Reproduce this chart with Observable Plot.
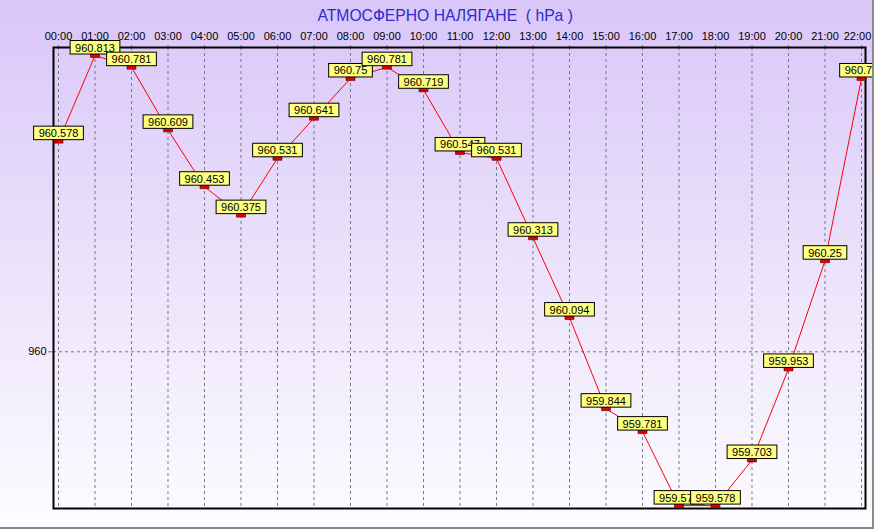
<!DOCTYPE html>
<html>
<head>
<meta charset="utf-8">
<script src="https://cdn.jsdelivr.net/npm/d3@7"></script>
<script src="https://cdn.jsdelivr.net/npm/@observablehq/plot@0.6"></script>
<style>
  html, body { margin: 0; padding: 0; background: #ffffff; }
  #wrap { width: 874px; height: 529px; box-sizing: border-box; border-right: 2px solid #8a8a8a; border-bottom: 2px solid #8a8a8a; overflow: hidden; }
</style>
</head>
<body>
<div id="wrap"></div>
<script>
const title = "АТМОСФЕРНО НАЛЯГАНЕ  ( hPa )";
const times = ["00:00","01:00","02:00","03:00","04:00","05:00","06:00","07:00","08:00","09:00","10:00","11:00",
               "12:00","13:00","14:00","15:00","16:00","17:00","18:00","19:00","20:00","21:00","22:00"];
const pressure = [960.578, 960.813, 960.781, 960.609, 960.453, 960.375, 960.531, 960.641, 960.75, 960.781, 960.719, 960.547,
                  960.531, 960.313, 960.094, 959.844, 959.781, 959.578, 959.578, 959.703, 959.953, 960.25, 960.75];
const yTicks = [960];

const data = times.map((t, i) => ({i, t, v: pressure[i]}));
const idx = times.map((t, i) => i);

const font = "'Liberation Sans', Arial, sans-serif";
const markerSymbol = { draw(ctx) { ctx.rect(-4.5, -2, 9, 4); } };

const W = 872, H = 527;
const chart = Plot.plot({
  width: W, height: H,
  marginLeft: 53, marginRight: W - 865, marginTop: 47, marginBottom: H - 508,
  style: { background: "linear-gradient(to bottom, #d9c6f9 0%, #ebe2fb 50%, #fdfcff 100%)", fontFamily: font, fontSize: "11px", color: "#000", overflow: "hidden" },
  x: { type: "linear", domain: [-0.137, 22.11] },
  y: { domain: [959.57, 960.835] },
  marks: [
    Plot.gridX(idx, { stroke: "#7a7a7a", strokeOpacity: 1, strokeDasharray: "3,3" }),
    Plot.gridY(yTicks, { stroke: "#7a7a7a", strokeOpacity: 1, strokeDasharray: "3,3" }),
    Plot.axisX(idx, { anchor: "top", tickFormat: i => times[i], tickSize: 6, tickPadding: 2, stroke: "#7a7a7a", strokeDasharray: "3,3", fontSize: 11, label: null }),
    Plot.axisY(yTicks, { anchor: "left", tickFormat: d => String(d), tickSize: 5, tickPadding: 2, stroke: "#7a7a7a", fontSize: 11, label: null }),
    Plot.frame({ stroke: "#000", strokeWidth: 2 }),
    Plot.lineY(data, { x: "i", y: "v", stroke: "#ff0000", strokeWidth: 1 }),
    Plot.dot(data, { x: "i", y: "v", symbol: markerSymbol, fill: "#dd0000", stroke: "#550000", strokeWidth: 0.6 }),
    Plot.text(data, { x: "i", y: "v", text: d => String(d.v), dy: -4, lineAnchor: "bottom", textAnchor: "middle", fontSize: 11, fill: "#000" }),
    Plot.text([title], { frameAnchor: "top-left", text: d => d, dx: 264, dy: -32, lineAnchor: "middle", textAnchor: "start", fontSize: 15.7, fill: "#2b2bd0" })
  ]
});
document.getElementById("wrap").appendChild(chart);

// yellow label boxes behind each value text (first text mark = value labels)
const ns = "http://www.w3.org/2000/svg";
const textGroups = chart.querySelectorAll('g[aria-label="text"]');
const valueGroup = textGroups[0];
valueGroup.querySelectorAll('text').forEach(t => {
  const b = t.getBBox();
  const r = document.createElementNS(ns, "rect");
  r.setAttribute("x", b.x - 5);
  r.setAttribute("y", b.y - 1);
  r.setAttribute("width", b.width + 10);
  r.setAttribute("height", b.height + 1.5);
  r.setAttribute("fill", "#ffff80");
  r.setAttribute("stroke", "#000");
  r.setAttribute("stroke-width", "1");
  if (t.getAttribute("transform")) r.setAttribute("transform", t.getAttribute("transform"));
  t.parentNode.insertBefore(r, t);
});
const titleText = textGroups[1] && textGroups[1].querySelector('text');
if (titleText) { titleText.setAttribute("xml:space", "preserve"); titleText.style.whiteSpace = "pre"; }

// keep the last hour label inside the panel, as in the reference
const tickLabels = chart.querySelectorAll('g[aria-label="x-axis tick label"] text');
if (tickLabels.length) {
  const last = tickLabels[tickLabels.length - 1];
  last.setAttribute("dx", (parseFloat(last.getAttribute("dx")) || 0) - 4);
}
</script>
</body>
</html>
